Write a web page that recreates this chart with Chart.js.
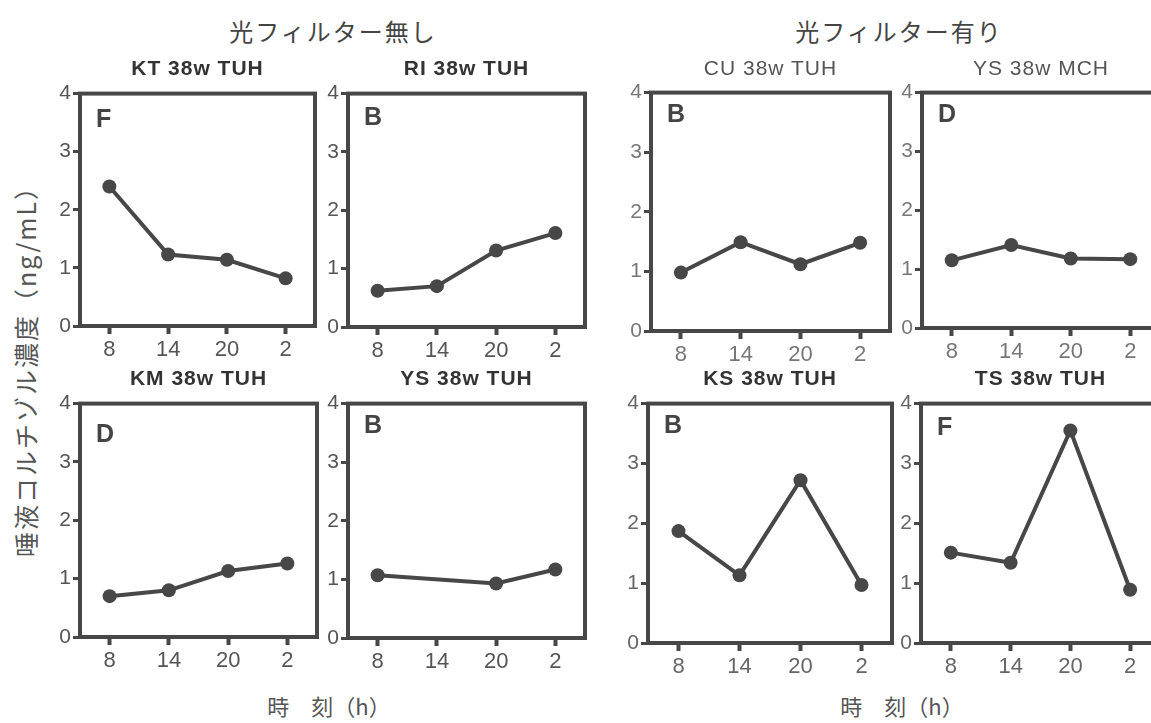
<!DOCTYPE html>
<html lang="ja">
<head>
  <meta charset="UTF-8">
  <title>唾液コルチゾル濃度</title>
  <style>
    html, body {
      margin: 0;
      padding: 0;
      background: #fff;
      width: 1151px;
      height: 723px;
      overflow: hidden;
    }
    #page {
      position: relative;
      width: 1151px;
      height: 723px;
    }
    canvas {
      position: absolute;
    }
    .lbl {
      position: absolute;
      white-space: nowrap;
      transform: translate(-50%, -50%);
    }
    .group {
      font-family: "Noto Sans CJK JP", sans-serif;
      font-size: 24px;
      letter-spacing: 2px;
      color: #444;
    }
    .panelTitle {
      font-family: "Liberation Sans", Arial, sans-serif;
      font-size: 21px;
      letter-spacing: 1px;
      color: #333;
    }
    .xlab {
      font-family: "Noto Sans CJK JP", sans-serif;
      font-size: 22px;
      color: #555;
    }
    .ylab {
      font-family: "Noto Sans CJK JP", sans-serif;
      font-size: 25px;
      letter-spacing: 2px;
      color: #555;
      transform: translate(-50%, -50%) rotate(-90deg);
    }
  </style>
</head>
<body>
  <div id="page">
    <div class="lbl group" style="left:333px; top:30px;">光フィルター無し</div>
    <div class="lbl group" style="left:899px; top:30px;">光フィルター有り</div>
    <div class="lbl ylab" style="left:25px; top:365px;">唾液コルチゾル濃度（ng/mL）</div>
    <div class="lbl xlab" style="left:329px; top:705px;">時　刻（h）</div>
    <div class="lbl xlab" style="left:902px; top:705px;">時　刻（h）</div>
  </div>

  <script src="https://cdn.jsdelivr.net/npm/chart.js/dist/chart.umd.min.js"></script>
  <script>
    // time of day (h)
    const hours = ['8', '14', '20', '2'];
    const yTicks = [0, 1, 2, 3, 4];

    // saliva cortisol (ng/mL)
    const kt    = [2.40, 1.23, 1.14, 0.82];
    const ri    = [0.62, 0.70, 1.31, 1.61];
    const cu    = [0.98, 1.49, 1.12, 1.48];
    const ysMch = [1.15, 1.41, 1.18, 1.17];
    const km    = [0.70, 0.80, 1.13, 1.26];
    const ysTuh = [1.07, null, 0.93, 1.17];
    const ks    = [1.87, 1.13, 2.72, 0.97];
    const ts    = [1.51, 1.34, 3.55, 0.89];

    const INK = '#474747';
    const PAD_L = 40, PAD_T = 14, PAD_R = 10, PAD_B = 40;
    const SANS = '"Liberation Sans", Arial, sans-serif';

    // plot box [left, top, right, bottom] in page pixels
    const panels = [
      { title: 'KT 38w TUH', letter: 'F', values: kt,    box: [80, 93, 315, 326],   bold: true,  tick: '#555', ly: 33 },
      { title: 'RI 38w TUH', letter: 'B', values: ri,    box: [348, 93, 585, 327],  bold: true,  tick: '#555', ly: 31 },
      { title: 'CU 38w TUH', letter: 'B', values: cu,    box: [651, 92, 890, 331],  bold: false, tick: '#777', ly: 29 },
      { title: 'YS 38w MCH', letter: 'D', values: ysMch, box: [922, 92, 1160, 328], bold: false, tick: '#777', ly: 29 },
      { title: 'KM 38w TUH', letter: 'D', values: km,    box: [80, 403, 317, 637],  bold: true,  tick: '#555', ly: 38 },
      { title: 'YS 38w TUH', letter: 'B', values: ysTuh, box: [348, 403, 585, 638], bold: true,  tick: '#555', ly: 29 },
      { title: 'KS 38w TUH', letter: 'B', values: ks,    box: [648, 403, 892, 643], bold: true,  tick: '#666', ly: 29 },
      { title: 'TS 38w TUH', letter: 'F', values: ts,    box: [921, 403, 1160, 643], bold: true, tick: '#666', ly: 31 }
    ];

    // thick frame round the plot area plus the panel letter
    const panelFrame = {
      id: 'panelFrame',
      beforeDatasetsDraw(chart, args, opts) {
        const a = chart.chartArea;
        const ctx = chart.ctx;
        ctx.save();
        ctx.strokeStyle = INK;
        ctx.lineWidth = 4;
        ctx.strokeRect(a.left, a.top, a.right - a.left, a.bottom - a.top);
        ctx.fillStyle = '#444';
        ctx.font = 'bold 25px ' + SANS;
        ctx.textBaseline = 'alphabetic';
        ctx.fillText(opts.letter, a.left + 16, a.top + opts.ly);
        ctx.restore();
      }
    };

    const page = document.getElementById('page');

    panels.forEach(p => {
      const [l, t, r, b] = p.box;
      const w = (r - l) + PAD_L + PAD_R;
      const h = (b - t) + PAD_T + PAD_B;

      const cv = document.createElement('canvas');
      cv.width = w;
      cv.height = h;
      cv.style.left = (l - PAD_L) + 'px';
      cv.style.top = (t - PAD_T) + 'px';
      cv.style.width = w + 'px';
      cv.style.height = h + 'px';
      page.appendChild(cv);

      const title = document.createElement('div');
      title.className = 'lbl panelTitle';
      title.textContent = p.title;
      title.style.left = ((l + r) / 2) + 'px';
      title.style.top = (t < 200 ? 68 : 378) + 'px';
      title.style.fontWeight = p.bold ? 'bold' : 'normal';
      if (!p.bold) title.style.color = '#555';
      page.appendChild(title);

      new Chart(cv.getContext('2d'), {
        type: 'line',
        data: {
          labels: hours,
          datasets: [{
            data: p.values,
            borderColor: INK,
            backgroundColor: INK,
            borderWidth: 4,
            pointRadius: 7,
            pointHoverRadius: 7,
            pointBorderWidth: 0,
            pointBackgroundColor: INK,
            tension: 0,
            spanGaps: true
          }]
        },
        options: {
          responsive: false,
          animation: false,
          devicePixelRatio: 1,
          layout: { padding: { left: 0, top: PAD_T, right: PAD_R, bottom: 0 } },
          plugins: {
            legend: { display: false },
            tooltip: { enabled: false },
            panelFrame: { letter: p.letter, ly: p.ly }
          },
          scales: {
            x: {
              offset: true,
              afterFit: s => { s.height = PAD_B; },
              border: { display: false },
              grid: {
                display: true,
                drawOnChartArea: false,
                drawTicks: true,
                tickLength: 8,
                tickWidth: 4,
                tickColor: INK,
                offset: false
              },
              ticks: {
                color: p.tick,
                padding: 3,
                maxRotation: 0,
                font: { family: SANS, size: 22 }
              }
            },
            y: {
              min: 0,
              max: 4,
              afterFit: s => { s.width = PAD_L; },
              afterBuildTicks: s => { s.ticks = yTicks.map(v => ({ value: v })); },
              border: { display: false },
              grid: {
                display: true,
                drawOnChartArea: false,
                drawTicks: true,
                tickLength: 7,
                tickWidth: 3,
                tickColor: INK
              },
              ticks: {
                color: p.tick,
                padding: 2,
                font: { family: SANS, size: 21 }
              }
            }
          }
        },
        plugins: [panelFrame]
      });
    });
  </script>
</body>
</html>
